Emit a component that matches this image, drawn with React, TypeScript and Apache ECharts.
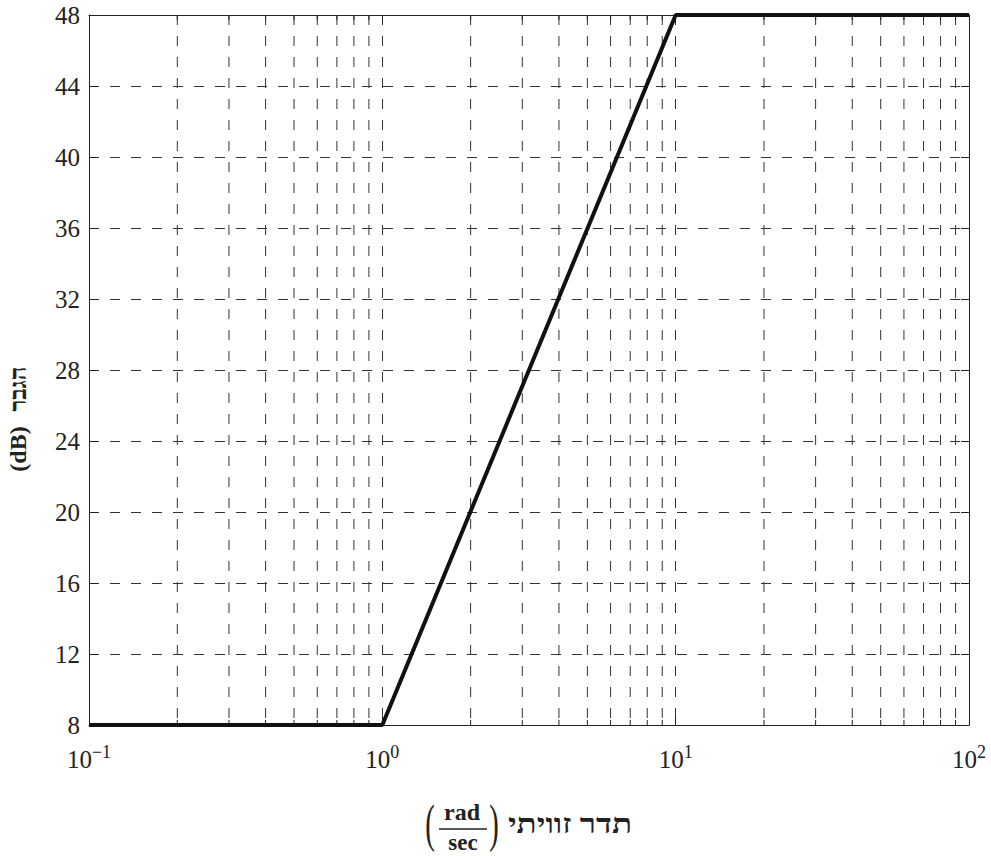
import React, { useEffect, useRef } from "react";
import * as echarts from "echarts";

const freqPoints: number[] = [0.1, 1, 10, 100];
const gainPoints: number[] = [8, 8, 48, 48];
const minorFreqs: number[] = [
  0.2, 0.3, 0.4, 0.5, 0.6, 0.7, 0.8, 0.9,
  2, 3, 4, 5, 6, 7, 8, 9,
  20, 30, 40, 50, 60, 70, 80, 90,
];
const yMin = 8;
const yMax = 48;
const yStep = 4;
const xTitle = "תדר זוויתי";
const yTitleHeb = "הגבר";
const yTitleUnit = "(dB)";

const FONT = "'Liberation Serif', 'Times New Roman', serif";
const INK = "#222";
const GRID = "#333";

export default function App() {
  const ref = useRef<HTMLDivElement>(null);
  useEffect(() => {
    document.body.style.margin = "0";
    const chart = echarts.init(ref.current!, null, { renderer: "svg" });
    const grid = { left: 89, right: 22, top: 15, bottom: 131 };
    const expFmt = (v: number) => {
      const e = Math.round(Math.log10(v));
      return `{b|10}{s|${e < 0 ? "−" + Math.abs(e) : e}}`;
    };
    chart.setOption({
      animation: false,
      backgroundColor: "#fff",
      grid,
      xAxis: [
        {
          type: "log",
          logBase: 10,
          min: 0.1,
          max: 100,
          position: "bottom",
          axisLine: { show: true, lineStyle: { color: INK, width: 1 } },
          axisTick: { show: true, inside: true, length: 8, lineStyle: { color: INK } },
          axisLabel: {
            formatter: expFmt,
            margin: 18,
            color: INK,
            rich: {
              b: { fontFamily: FONT, fontSize: 25, color: INK },
              s: { fontFamily: FONT, fontSize: 18, color: INK, padding: [0, 0, 14, 0] },
            },
          },
          splitLine: { show: true, lineStyle: { color: GRID, width: 1, type: [10, 11] } },
        },
        {
          type: "log",
          logBase: 10,
          min: 0.1,
          max: 100,
          position: "top",
          axisLine: { show: true, lineStyle: { color: INK, width: 1 } },
          axisTick: { show: true, inside: true, length: 8, lineStyle: { color: INK } },
          axisLabel: { show: false },
          splitLine: { show: false },
        },
      ],
      yAxis: [
        {
          type: "value",
          min: yMin,
          max: yMax,
          interval: yStep,
          position: "left",
          axisLine: { show: true, lineStyle: { color: INK, width: 1 } },
          axisTick: { show: true, inside: true, length: 8, lineStyle: { color: INK } },
          axisLabel: { fontFamily: FONT, fontSize: 25, color: INK, margin: 9 },
          splitLine: { show: true, lineStyle: { color: GRID, width: 1, type: [10, 11] } },
        },
        {
          type: "value",
          min: yMin,
          max: yMax,
          interval: yStep,
          position: "right",
          axisLine: { show: true, lineStyle: { color: INK, width: 1 } },
          axisTick: { show: true, inside: true, length: 8, lineStyle: { color: INK } },
          axisLabel: { show: false },
          splitLine: { show: false },
        },
      ],
      series: [
        {
          type: "custom",
          xAxisIndex: 0,
          yAxisIndex: 0,
          silent: true,
          data: minorFreqs.map((f) => [f, yMin]),
          encode: { x: 0, y: 1 },
          renderItem: (params: any, api: any) => {
            const x = api.value(0);
            const top = api.coord([x, yMax]);
            const bot = api.coord([x, yMin]);
            return {
              type: "group",
              children: [
                {
                  type: "line",
                  shape: { x1: top[0], y1: top[1], x2: bot[0], y2: bot[1] },
                  style: { stroke: GRID, lineWidth: 1, lineDash: [10, 11] },
                },
                {
                  type: "line",
                  shape: { x1: bot[0], y1: bot[1], x2: bot[0], y2: bot[1] - 5 },
                  style: { stroke: INK, lineWidth: 1 },
                },
                {
                  type: "line",
                  shape: { x1: top[0], y1: top[1], x2: top[0], y2: top[1] + 5 },
                  style: { stroke: INK, lineWidth: 1 },
                },
              ],
            };
          },
          z: 1,
        },
        {
          type: "line",
          xAxisIndex: 0,
          yAxisIndex: 0,
          data: freqPoints.map((f, i) => [f, gainPoints[i]]),
          symbol: "none",
          lineStyle: { color: "#111", width: 4 },
          z: 5,
        },
      ],
      graphic: [
        {
          type: "text",
          x: 18,
          y: 389,
          rotation: Math.PI / 2,
          style: {
            text: yTitleHeb,
            font: `bold 24px ${FONT}`,
            fill: INK,
            align: "center",
            verticalAlign: "middle",
          },
        },
        {
          type: "text",
          x: 18,
          y: 449,
          rotation: Math.PI / 2,
          style: {
            text: yTitleUnit,
            font: `bold 24px ${FONT}`,
            fill: INK,
            align: "center",
            verticalAlign: "middle",
          },
        },
        {
          type: "text",
          x: 430,
          y: 824,
          scaleX: 0.55,
          style: {
            text: "(",
            font: `normal 52px ${FONT}`,
            fill: INK,
            align: "center",
            verticalAlign: "middle",
          },
        },
        {
          type: "text",
          x: 462,
          y: 812,
          style: {
            text: "rad",
            font: `bold 24px ${FONT}`,
            fill: INK,
            align: "center",
            verticalAlign: "middle",
          },
        },
        {
          type: "line",
          shape: { x1: 439, y1: 829, x2: 487, y2: 829 },
          style: { stroke: INK, lineWidth: 1.5 },
        },
        {
          type: "text",
          x: 463,
          y: 842,
          style: {
            text: "sec",
            font: `bold 23px ${FONT}`,
            fill: INK,
            align: "center",
            verticalAlign: "middle",
          },
        },
        {
          type: "text",
          x: 494,
          y: 824,
          scaleX: 0.55,
          style: {
            text: ")",
            font: `normal 52px ${FONT}`,
            fill: INK,
            align: "center",
            verticalAlign: "middle",
          },
        },
        {
          type: "text",
          x: 570,
          y: 824,
          scaleX: 1.18,
          style: {
            text: xTitle,
            font: `bold 28px ${FONT}`,
            fill: INK,
            align: "center",
            verticalAlign: "middle",
          },
        },
      ],
    });
    return () => chart.dispose();
  }, []);
  return <div ref={ref} style={{ width: 991, height: 856 }} />;
}
